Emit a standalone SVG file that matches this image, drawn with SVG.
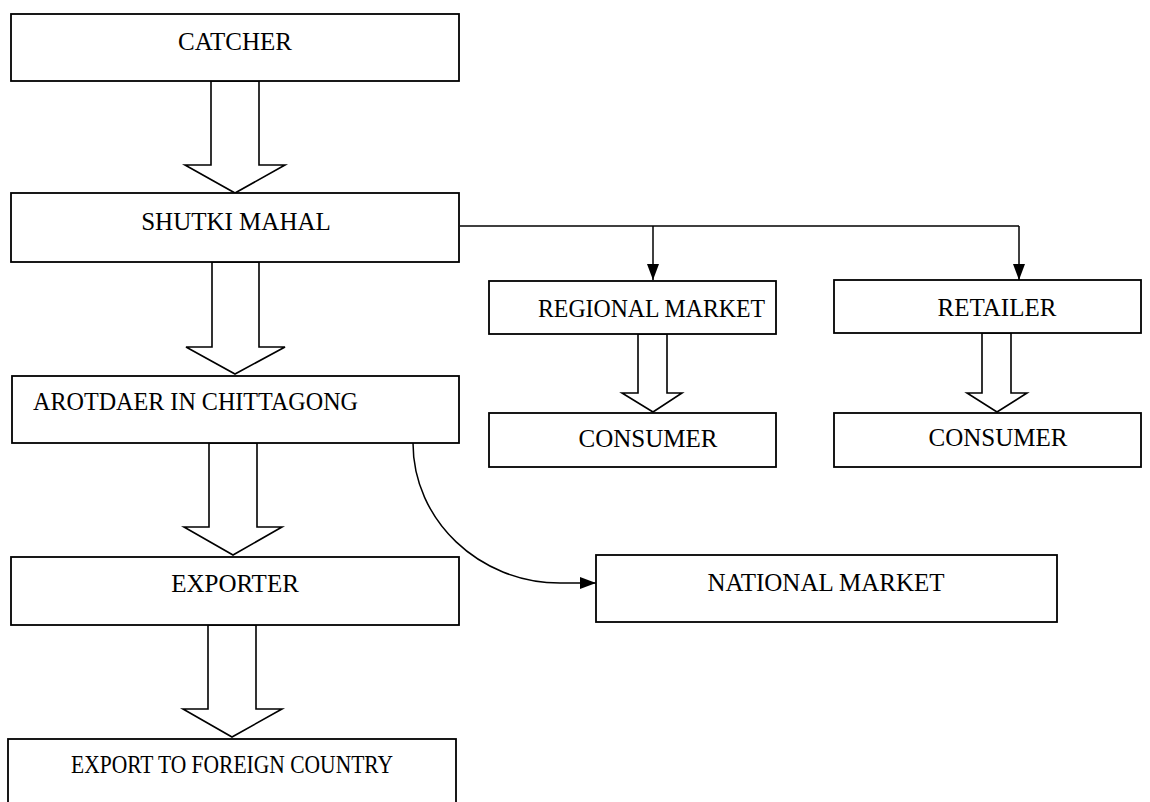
<svg xmlns="http://www.w3.org/2000/svg" width="1150" height="802" viewBox="0 0 1150 802">
<style>
.box{fill:#fff;stroke:#000;stroke-width:1.8}
.harrow{fill:#fff;stroke:#000;stroke-width:1.6;stroke-linejoin:miter}
.line{fill:none;stroke:#000;stroke-width:1.5}
text{font-family:"Liberation Serif","Times New Roman",serif;font-size:25px;fill:#000}
.c{text-anchor:middle}
</style>
<defs>
<marker id="ah" markerWidth="16" markerHeight="12" refX="16" refY="6" orient="auto" markerUnits="userSpaceOnUse">
<path d="M0,0 L16,6 L0,12 Z" fill="#000"/>
</marker>
</defs>
<rect width="1150" height="802" fill="#fff"/>
<g id="connectors">
<path class="harrow" d="M211,81 L259,81 L259,165 L285,165 L235,193 L185,165 L211,165 Z"/>
<path class="harrow" d="M212,262 L259,262 L259,347 L285,347 L235,374 L186,347 L212,347 Z"/>
<path class="harrow" d="M209,443 L257,443 L257,527 L282,527 L233,555 L184,527 L209,527 Z"/>
<path class="harrow" d="M208,625 L256,625 L256,709 L282,709 L232,737 L183,709 L208,709 Z"/>
<path class="harrow" d="M638,334 L667,334 L667,393 L682,393 L653,412 L622,393 L638,393 Z"/>
<path class="harrow" d="M982,333 L1011,333 L1011,393 L1027,393 L997,412 L967,393 L982,393 Z"/>
<path class="line" d="M460,226 L1019,226"/>
<path class="line" d="M653,226 L653,280" marker-end="url(#ah)"/>
<path class="line" d="M1019,226 L1019,280" marker-end="url(#ah)"/>
<path class="line" d="M413,443 C413,520 479,583 560,583 L596,583" marker-end="url(#ah)"/>
</g>
<g id="catcher"><rect class="box" x="11" y="14" width="448" height="67"/><text class="c" x="235" y="50">CATCHER</text></g>
<g id="shutki"><rect class="box" x="11" y="193" width="448" height="69"/><text class="c" x="236" y="230">SHUTKI MAHAL</text></g>
<g id="arotdaer"><rect class="box" x="12" y="376" width="447" height="67"/><text x="33" y="410" textLength="325" lengthAdjust="spacingAndGlyphs">AROTDAER IN CHITTAGONG</text></g>
<g id="exporter"><rect class="box" x="11" y="557" width="448" height="68"/><text class="c" x="235" y="592">EXPORTER</text></g>
<g id="export-foreign"><rect class="box" x="8" y="739" width="448" height="80"/><text x="71" y="773" textLength="322" lengthAdjust="spacingAndGlyphs">EXPORT TO FOREIGN COUNTRY</text></g>
<g id="regional"><rect class="box" x="489" y="281" width="287" height="53"/><text x="538" y="317" textLength="227" lengthAdjust="spacingAndGlyphs">REGIONAL MARKET</text></g>
<g id="retailer"><rect class="box" x="834" y="280" width="307" height="53"/><text class="c" x="997" y="316">RETAILER</text></g>
<g id="consumer1"><rect class="box" x="489" y="413" width="287" height="54"/><text class="c" x="648" y="447">CONSUMER</text></g>
<g id="consumer2"><rect class="box" x="834" y="413" width="307" height="54"/><text class="c" x="998" y="446">CONSUMER</text></g>
<g id="national"><rect class="box" x="596" y="555" width="461" height="67"/><text class="c" x="826" y="591">NATIONAL MARKET</text></g>
</svg>
